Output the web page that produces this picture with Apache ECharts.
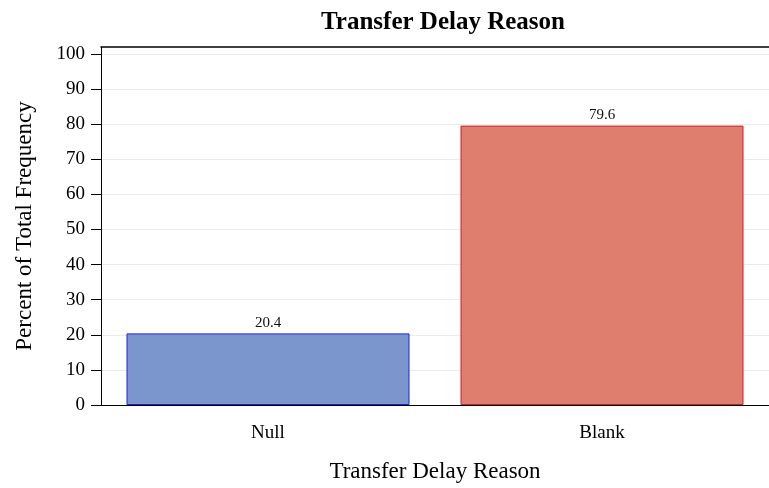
<!DOCTYPE html>
<html>
<head>
<meta charset="utf-8">
<script src="https://cdn.jsdelivr.net/npm/echarts@6/dist/echarts.min.js"></script>
<style>html,body{margin:0;padding:0;background:#fff}#c{width:769px;height:488px}</style>
</head>
<body>
<div id="c"></div>
<script>
const categories = ["Null", "Blank"];
const percents = [20.4, 79.6];
const fillColors = ["#7B96CC", "#DF7E6E"];
const borderColors = ["#1F1FE6", "#C8202E"];
const yTicks = [0, 10, 20, 30, 40, 50, 60, 70, 80, 90, 100];

const font = "'Liberation Serif', 'DejaVu Serif', serif";
const chart = echarts.init(document.getElementById('c'), null, {renderer: 'canvas'});
chart.setOption({
  animation: false,
  backgroundColor: '#fff',
  title: {
    text: 'Transfer Delay Reason',
    left: 438, top: 5, textAlign: 'center',
    textStyle: {fontFamily: font, fontWeight: 'bold', fontSize: 25, color: '#000'}
  },
  grid: {left: 101, right: 0, top: 47, bottom: 79},
  xAxis: [{
    type: 'category',
    data: categories,
    name: 'Transfer Delay Reason',
    nameLocation: 'middle',
    nameGap: 55,
    nameTextStyle: {fontFamily: font, fontSize: 23, color: '#000'},
    axisLine: {lineStyle: {color: '#000', width: 1}},
    axisTick: {alignWithLabel: true, length: 10, lineStyle: {color: '#333'}},
    axisLabel: {fontFamily: font, fontSize: 19, color: '#000', margin: 19}
  }, {
    type: 'category',
    position: 'top',
    data: categories,
    axisLine: {show: true, lineStyle: {color: '#000', width: 1.5}},
    axisTick: {show: false},
    axisLabel: {show: false}
  }],
  yAxis: {
    type: 'value',
    min: 0, max: 102,
    interval: 10,
    name: 'Percent of Total Frequency',
    nameLocation: 'middle',
    nameGap: 65,
    nameTextStyle: {fontFamily: font, fontSize: 23, color: '#000'},
    axisLine: {show: true, lineStyle: {color: '#000', width: 1}},
    axisTick: {show: true, length: 10, customValues: yTicks, lineStyle: {color: '#000'}},
    axisLabel: {fontFamily: font, fontSize: 19, color: '#000', margin: 16, customValues: yTicks},
    splitLine: {show: true, lineStyle: {color: '#EBEBEB', width: 1}}
  },
  series: [{
    type: 'bar',
    barWidth: 283,
    data: percents.map((v, i) => ({
      value: v,
      itemStyle: {color: fillColors[i], borderColor: borderColors[i], borderWidth: 1}
    })),
    label: {
      show: true, position: 'top', distance: 3,
      fontFamily: font, fontSize: 15, color: '#111',
      formatter: p => p.value.toFixed(1)
    }
  }]
});
</script>
</body>
</html>
